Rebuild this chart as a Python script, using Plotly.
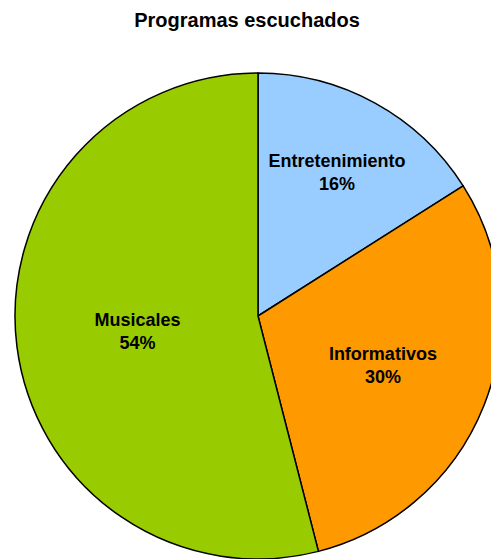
import plotly.graph_objects as go

# Radio programme preferences (share of listeners)
categories = ["Entretenimiento", "Informativos", "Musicales"]
shares = [16, 30, 54]
slice_colors = ["#99CCFF", "#FF9900", "#99CC00"]

W, H = 502, 559
FONT = "Liberation Sans, Arial, sans-serif"

fig = go.Figure(
    go.Pie(
        labels=categories,
        values=shares,
        sort=False,
        direction="clockwise",
        rotation=0,
        marker=dict(colors=slice_colors, line=dict(color="black", width=1.5)),
        texttemplate="<b>%{label}</b><br><b>%{percent:.0%}</b>",
        textposition="inside",
        insidetextorientation="horizontal",
        textfont=dict(family=FONT, size=18, color="black"),
        hoverinfo="label+percent",
        showlegend=False,
    )
)

fig.update_layout(
    width=W,
    height=H,
    margin=dict(l=15, r=W - 501, t=73, b=0, pad=0),
    paper_bgcolor="white",
    plot_bgcolor="white",
    uniformtext=dict(minsize=18, mode="show"),
    title=dict(
        text="<b>Programas escuchados</b>",
        x=247 / W,
        xref="container",
        xanchor="center",
        y=1 - 20 / H,
        yref="container",
        yanchor="middle",
        font=dict(family=FONT, size=20, color="black"),
    ),
)

fig.write_html("out.html")
